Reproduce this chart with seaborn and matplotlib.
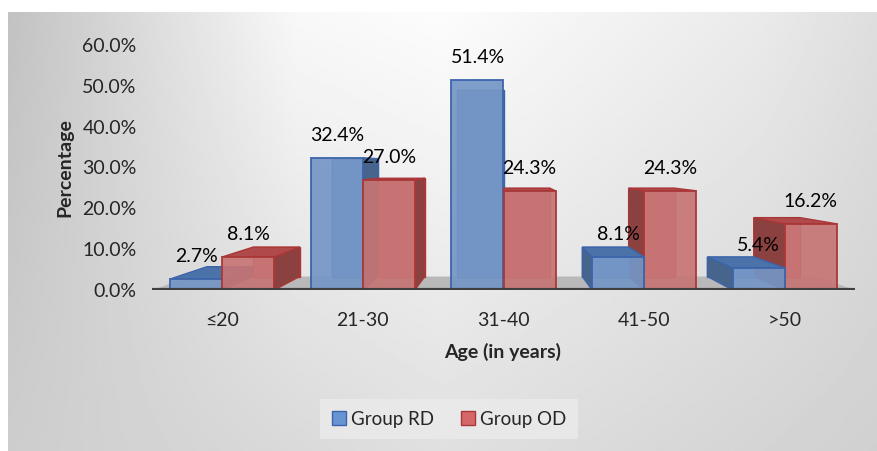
import numpy as np
import pandas as pd
import matplotlib
matplotlib.use("Agg")
import matplotlib.pyplot as plt
import seaborn as sns
from matplotlib.patches import Polygon, Patch

# data
age_groups = ["≤20", "21-30", "31-40", "41-50", ">50"]
group_rd = [2.7, 32.4, 51.4, 8.1, 5.4]
group_od = [8.1, 27.0, 24.3, 24.3, 16.2]
series = ["Group RD", "Group OD"]
y_ticks = [0, 10, 20, 30, 40, 50, 60]

df = pd.DataFrame({
    "age": age_groups * 2,
    "pct": group_rd + group_od,
    "group": [series[0]] * len(age_groups) + [series[1]] * len(age_groups),
})

# colours: front, edge, side, top
style = {
    "Group RD": dict(face="#6794d2", edge="#3c64aa", side="#46648c", top="#4b73aa"),
    "Group OD": dict(face="#d46868", edge="#aa3737", side="#8c4141", top="#b04a4a"),
}

sns.set_theme(style="white")
plt.rcParams["font.family"] = ["Lato", "DejaVu Sans"]
FS = 14

fig = plt.figure(figsize=(8.77, 4.51), dpi=100)
fig.patch.set_facecolor("white")

# chart area background gradient (Excel style)
bg = fig.add_axes([8 / 877, 0, 869 / 877, 439 / 451], zorder=-10)
xs = np.linspace(0, 1, 400)
top_row = np.interp(xs, [0, 0.33, 0.5, 0.87, 1], [194, 248, 252, 234, 222])
bot_row = np.interp(xs, [0, 0.5, 1], [205, 224, 208])
ys = np.linspace(0, 1, 200)[:, None]
img = (top_row * (1 - ys) + bot_row * ys) / 255
bg.imshow(img, cmap="gray", vmin=0, vmax=1, aspect="auto", interpolation="bilinear")
bg.axis("off")

ax = fig.add_axes([152 / 877, 161 / 451, 703 / 877, 245 / 451])
ax.patch.set_alpha(0)
sns.barplot(data=df, x="age", y="pct", hue="group", hue_order=series,
            palette={k: v["face"] for k, v in style.items()},
            width=0.74, gap=0, legend=False, ax=ax)
ax.set_xlim(-0.5, len(age_groups) - 0.5)
ax.set_ylim(0, 60)

# fake 3D: perspective toward centre of plot
vx = np.mean(ax.get_xlim())
vy = np.mean(ax.get_ylim())
depth = 0.11


def back(px, py):
    return (px + depth * (vx - px), py + depth * (vy - py))


# floor
x_lo, x_hi = ax.get_xlim()
ax.add_patch(Polygon([(x_lo, 0), (x_hi, 0), back(x_hi, 0), back(x_lo, 0)],
                     closed=True, facecolor="#b9b9b9", edgecolor="none", zorder=1))
ax.axhline(0, color="#3f3f3f", lw=3, zorder=60)

bars = list(ax.patches)[:len(df)]
labels = [series[0]] * len(age_groups) + [series[1]] * len(age_groups)
order = sorted(range(len(bars)),
               key=lambda i: -abs(bars[i].get_x() + bars[i].get_width() / 2 - vx))

for rank, i in enumerate(order):
    p = bars[i]
    st = style[labels[i]]
    x0, w, h = p.get_x(), p.get_width(), p.get_height()
    x1 = x0 + w
    base = 3 + rank
    # back face
    ax.add_patch(Polygon([back(x0, 0), back(x1, 0), back(x1, h), back(x0, h)],
                         closed=True, facecolor=st["face"], edgecolor=st["edge"],
                         lw=1.0, zorder=base))
    if x1 < vx:
        ax.add_patch(Polygon([(x1, 0), (x1, h), back(x1, h), back(x1, 0)],
                             closed=True, facecolor=st["side"], edgecolor=st["edge"],
                             lw=1.0, zorder=base + 0.1))
    if x0 > vx:
        ax.add_patch(Polygon([(x0, 0), (x0, h), back(x0, h), back(x0, 0)],
                             closed=True, facecolor=st["side"], edgecolor=st["edge"],
                             lw=1.0, zorder=base + 0.1))
    if h < vy:
        ax.add_patch(Polygon([(x0, h), (x1, h), back(x1, h), back(x0, h)],
                             closed=True, facecolor=st["top"], edgecolor=st["edge"],
                             lw=1.0, zorder=base + 0.2))
    p.set_edgecolor(st["edge"])
    p.set_linewidth(1.4)
    p.set_alpha(0.92)
    p.set_zorder(base + 0.3)
    ax.annotate(f"{h:.1f}%", (x0 + w / 2, h), xytext=(0, 16), textcoords="offset points",
                ha="center", va="center", fontsize=FS, color="black", zorder=100)

for s in ax.spines.values():
    s.set_visible(False)
ax.set_yticks(y_ticks)
ax.set_yticklabels([f"{v:.1f}%" for v in y_ticks])
ax.tick_params(axis="y", length=0, pad=11, labelsize=FS)
ax.tick_params(axis="x", length=0, pad=16, labelsize=FS)

ax.set_ylabel("Percentage", fontsize=FS, fontweight="bold")
ax.yaxis.set_label_coords(-0.112, 0.5)
ax.set_xlabel("Age (in years)", fontsize=FS, fontweight="bold")
ax.xaxis.set_label_coords(0.4993, -0.215)

handles = [Patch(facecolor=style[s]["face"], edgecolor=style[s]["edge"], label=s) for s in series]
leg = fig.legend(handles=handles, loc="center", bbox_to_anchor=(449 / 877, 32 / 451),
                 ncol=2, fontsize=13.5, frameon=True, handlelength=0.75, handleheight=0.75,
                 handletextpad=0.3, columnspacing=1.4, borderpad=0.6, fancybox=False)
leg.get_frame().set_facecolor("#ebebeb")
leg.get_frame().set_edgecolor("none")

fig.savefig("out.png", dpi=100)
